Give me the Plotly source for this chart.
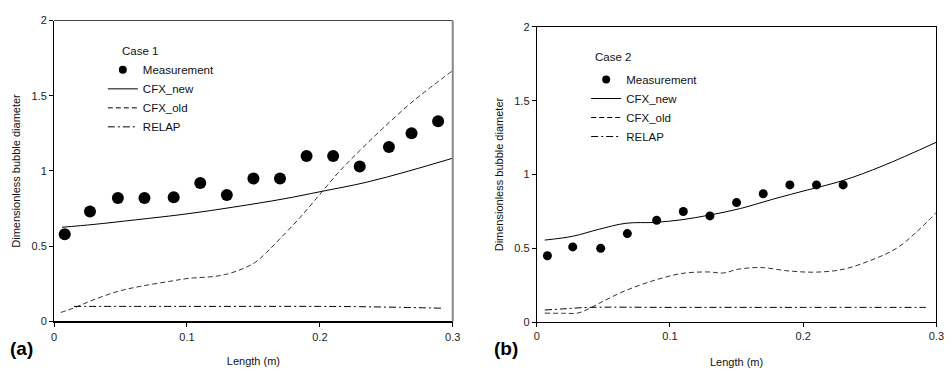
import plotly.graph_objects as go

# ---------------- Data: Case 1 (a) ----------------
c1_meas_x = [0.008, 0.027, 0.048, 0.068, 0.090, 0.110, 0.130, 0.150, 0.170, 0.190, 0.210, 0.230, 0.252, 0.269, 0.289]
c1_meas_y = [0.58, 0.73, 0.82, 0.82, 0.825, 0.92, 0.84, 0.95, 0.95, 1.10, 1.10, 1.03, 1.16, 1.25, 1.33]

c1_new_x = [0.006, 0.030, 0.061, 0.100, 0.135, 0.173, 0.200, 0.235, 0.267, 0.300]
c1_new_y = [0.626, 0.645, 0.675, 0.715, 0.760, 0.815, 0.862, 0.925, 1.000, 1.085]

c1_old_x = [0.005, 0.015, 0.0286, 0.048, 0.066, 0.086, 0.100, 0.128, 0.150, 0.160, 0.170, 0.185, 0.200, 0.215, 0.230, 0.247, 0.271, 0.300]
c1_old_y = [0.060, 0.090, 0.140, 0.200, 0.235, 0.265, 0.285, 0.310, 0.385, 0.460, 0.550, 0.690, 0.845, 1.000, 1.135, 1.280, 1.470, 1.667]

c1_relap_x = [0.015, 0.100, 0.200, 0.230, 0.260, 0.292]
c1_relap_y = [0.100, 0.100, 0.100, 0.098, 0.094, 0.088]

# ---------------- Data: Case 2 (b) ----------------
c2_meas_x = [0.008, 0.027, 0.048, 0.068, 0.090, 0.110, 0.130, 0.150, 0.170, 0.190, 0.210, 0.230]
c2_meas_y = [0.45, 0.51, 0.50, 0.60, 0.69, 0.75, 0.72, 0.81, 0.87, 0.93, 0.93, 0.93]

c2_new_x = [0.006, 0.027, 0.047, 0.067, 0.089, 0.109, 0.130, 0.153, 0.178, 0.203, 0.230, 0.260, 0.300]
c2_new_y = [0.556, 0.582, 0.630, 0.670, 0.676, 0.694, 0.726, 0.770, 0.835, 0.895, 0.960, 1.060, 1.219]

c2_old_x = [0.006, 0.020, 0.031, 0.040, 0.0495, 0.067, 0.089, 0.109, 0.129, 0.140, 0.151, 0.168, 0.190, 0.210, 0.230, 0.2525, 0.270, 0.285, 0.300]
c2_old_y = [0.061, 0.060, 0.062, 0.095, 0.140, 0.215, 0.285, 0.330, 0.340, 0.333, 0.358, 0.370, 0.346, 0.339, 0.358, 0.425, 0.500, 0.610, 0.744]

c2_relap_x = [0.006, 0.020, 0.040, 0.100, 0.200, 0.292]
c2_relap_y = [0.082, 0.090, 0.100, 0.100, 0.100, 0.100]

x_ticks = [0, 0.1, 0.2, 0.3]
x_tick_text = ["0", "0.1", "0.2", "0.3"]
y_ticks = [0, 0.5, 1, 1.5, 2]
y_tick_text = ["0", "0.5", "1", "1.5", "2"]

case_titles = ["Case 1", "Case 2"]
series_names = ["Measurement", "CFX_new", "CFX_old", "RELAP"]

FONT = "Liberation Sans, Arial, sans-serif"
W, H = 952, 371

OLD_DASH = "5px,3px"
RELAP_DASH = "7px,3px,2px,3px"

fig = go.Figure()

def add_case(xa, ya, legend, mx, my, nx, ny, ox, oy, rx, ry, msize):
    fig.add_trace(go.Scatter(x=mx, y=my, mode="markers", name=series_names[0],
                             marker=dict(color="black", size=msize), showlegend=False,
                             xaxis=xa, yaxis=ya))
    fig.add_trace(go.Scatter(x=nx, y=ny, mode="lines", name=series_names[1], showlegend=False,
                             line=dict(color="black", width=1, shape="spline"),
                             xaxis=xa, yaxis=ya))
    fig.add_trace(go.Scatter(x=ox, y=oy, mode="lines", name=series_names[2], showlegend=False,
                             line=dict(color="#333333", width=1, dash=OLD_DASH, shape="spline"),
                             xaxis=xa, yaxis=ya))
    fig.add_trace(go.Scatter(x=rx, y=ry, mode="lines", name=series_names[3], showlegend=False,
                             line=dict(color="black", width=1, dash=RELAP_DASH, shape="spline"),
                             xaxis=xa, yaxis=ya))
    # legend entries (no data, smaller legend symbol as in the original)
    fig.add_trace(go.Scatter(x=[None], y=[None], mode="markers", name=series_names[0],
                             marker=dict(color="black", size=8), xaxis=xa, yaxis=ya, legend=legend))
    fig.add_trace(go.Scatter(x=[None], y=[None], mode="lines", name=series_names[1],
                             line=dict(color="black", width=1), xaxis=xa, yaxis=ya, legend=legend))
    fig.add_trace(go.Scatter(x=[None], y=[None], mode="lines", name=series_names[2],
                             line=dict(color="black", width=1, dash=OLD_DASH), xaxis=xa, yaxis=ya, legend=legend))
    fig.add_trace(go.Scatter(x=[None], y=[None], mode="lines", name=series_names[3],
                             line=dict(color="black", width=1, dash=RELAP_DASH), xaxis=xa, yaxis=ya, legend=legend))

add_case("x", "y", "legend", c1_meas_x, c1_meas_y, c1_new_x, c1_new_y,
         c1_old_x, c1_old_y, c1_relap_x, c1_relap_y, 12)
add_case("x2", "y2", "legend2", c2_meas_x, c2_meas_y, c2_new_x, c2_new_y,
         c2_old_x, c2_old_y, c2_relap_x, c2_relap_y, 9)

def px_x(p):
    return p / W

def px_y(p):
    return 1 - p / H

tickfont = dict(family=FONT, size=11, color="#222")
titlefont = dict(family=FONT, size=11, color="#111")

def xax(domain, anchor, linewidth, mirror):
    return dict(domain=domain, range=[0, 0.3], tickvals=x_ticks, ticktext=x_tick_text,
                showline=True, linecolor="black", linewidth=linewidth, mirror=mirror,
                ticks="outside", ticklen=4, tickcolor="black", showgrid=False, zeroline=False,
                tickfont=tickfont, anchor=anchor,
                title=dict(text="Length (m)", font=titlefont, standoff=16))

def yax(domain, anchor, mirror):
    return dict(domain=domain, range=[0, 2], tickvals=y_ticks, ticktext=y_tick_text,
                showline=True, linecolor="black", linewidth=1, mirror=mirror,
                ticks="outside", ticklen=4, tickcolor="black", showgrid=False, zeroline=False,
                tickfont=tickfont, anchor=anchor,
                title=dict(text="Dimensionless bubble diameter", font=titlefont, standoff=8))

legfont = dict(family=FONT, size=11.5, color="#111")

fig.update_layout(
    width=W, height=H,
    margin=dict(l=0, r=0, t=0, b=0),
    paper_bgcolor="white", plot_bgcolor="white",
    font=dict(family=FONT, size=11.5, color="#111"),
    xaxis=xax([px_x(51.7), px_x(455)], "y", 2, False),
    yaxis=yax([px_y(326), px_y(15)], "x", False),
    xaxis2=xax([px_x(540), px_x(944.3)], "y2", 1, True),
    yaxis2=yax([px_y(326.7), px_y(21.7)], "x2", True),
    legend=dict(x=px_x(101), y=px_y(51), xanchor="left", yanchor="top",
                bgcolor="rgba(0,0,0,0)", borderwidth=0, itemwidth=30, font=legfont),
    legend2=dict(x=px_x(590), y=px_y(61), xanchor="left", yanchor="top",
                 bgcolor="rgba(0,0,0,0)", borderwidth=0, itemwidth=30, font=legfont),
    showlegend=True,
)

# legend headings
fig.add_annotation(text=case_titles[0], xref="paper", yref="paper", x=px_x(118), y=px_y(47),
                   xanchor="left", yanchor="middle", showarrow=False, font=legfont)
fig.add_annotation(text=case_titles[1], xref="paper", yref="paper", x=px_x(597), y=px_y(53),
                   xanchor="left", yanchor="middle", showarrow=False, font=legfont)

# frame of panel (a): thin top edge, grey right edge
fig.add_shape(type="line", xref="x domain", yref="y domain", x0=0, x1=1, y0=1, y1=1,
              line=dict(color="#444", width=1))
fig.add_shape(type="line", xref="x domain", yref="y domain", x0=1, x1=1, y0=0, y1=1,
              line=dict(color="#888", width=2))

# panel labels
fig.add_annotation(text="<b>(a)</b>", xref="paper", yref="paper", x=px_x(5), y=px_y(354),
                   xanchor="left", yanchor="middle", showarrow=False,
                   font=dict(family=FONT, size=19, color="black"))
fig.add_annotation(text="<b>(b)</b>", xref="paper", yref="paper", x=px_x(495), y=px_y(354),
                   xanchor="left", yanchor="middle", showarrow=False,
                   font=dict(family=FONT, size=19, color="black"))

fig.write_html("out.html")
